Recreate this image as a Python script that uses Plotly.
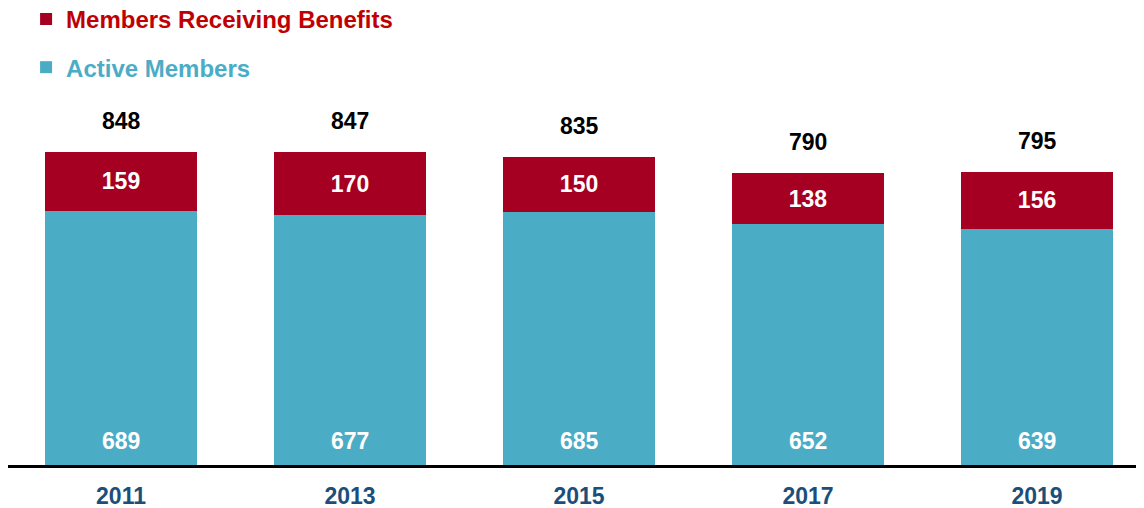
import plotly.graph_objects as go

years = ["2011", "2013", "2015", "2017", "2019"]
active = [689, 677, 685, 652, 639]
receiving = [159, 170, 150, 138, 156]
totals = [848, 847, 835, 790, 795]

BLUE = "#4BACC6"
RED = "#A50021"
RED_TEXT = "#C00000"
FONT = "Liberation Sans, Arial, sans-serif"

fig = go.Figure()
fig.add_trace(go.Bar(
    x=years, y=active, name="<b><span style='color:%s'>Active Members</span></b>" % BLUE,
    marker=dict(color=BLUE, line=dict(width=0)), width=0.664,
    legendrank=2, legendgroup="a", hoverinfo="skip", showlegend=True,
))
fig.add_trace(go.Bar(
    x=years, y=receiving, name="<b><span style='color:%s'>Members Receiving Benefits</span></b>" % RED_TEXT,
    marker=dict(color=RED, line=dict(width=0)), width=0.664,
    text=[str(v) for v in receiving], textposition="inside", insidetextanchor="middle",
    textfont=dict(color="white", size=23, family=FONT), texttemplate="<b>%{text}</b>",
    legendrank=1, legendgroup="b", hoverinfo="skip",
))

for i, (a, t) in enumerate(zip(active, totals)):
    fig.add_annotation(x=i, y=0, xref="x", yref="y", text="<b>%d</b>" % a, showarrow=False,
                       yanchor="middle", yshift=24, font=dict(color="white", size=23, family=FONT))
    fig.add_annotation(x=i, y=t, xref="x", yref="y", text="<b>%d</b>" % t, showarrow=False,
                       yanchor="middle", yshift=31, font=dict(color="black", size=23, family=FONT))

fig.update_layout(
    width=1144, height=508,
    margin=dict(l=0, r=8, t=92, b=51, autoexpand=False),
    barmode="stack",
    plot_bgcolor="white", paper_bgcolor="white",
    font=dict(family=FONT),
    showlegend=True,
    legend=dict(
        x=0.0158, xref="container", xanchor="left",
        y=1.2825, yref="paper", yanchor="top",
        orientation="v", traceorder="grouped", tracegroupgap=14,
        font=dict(size=24, family=FONT), bgcolor="rgba(0,0,0,0)",
    ),
    xaxis=dict(
        type="category",
        range=[-0.4934, 4.467], showline=True, linecolor="black", linewidth=3,
        showgrid=False, zeroline=False, ticks="", ticklabelstandoff=8,
        tickfont=dict(size=23, color="#1B4F7A", family=FONT),
        tickprefix="<b>", ticksuffix="</b>",
    ),
    yaxis=dict(range=[0, 988.9], visible=False, showgrid=False, zeroline=False),
)

fig.write_html("out.html")
